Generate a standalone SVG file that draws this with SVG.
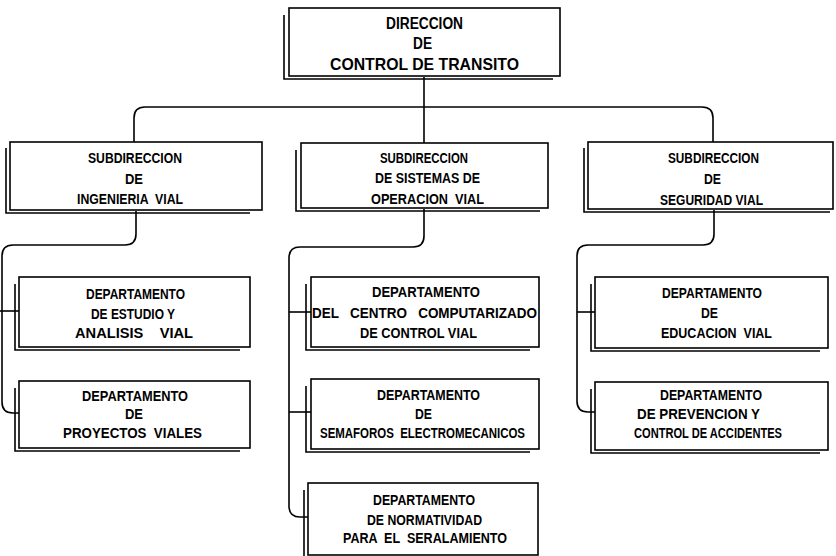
<svg xmlns="http://www.w3.org/2000/svg" width="836" height="556" viewBox="0 0 836 556">
<style>
.box{fill:#fff;stroke:#000;stroke-width:1.6}
.sh{fill:none;stroke:#000;stroke-width:1.6}
.c{fill:none;stroke:#000;stroke-width:1.6}
text{font-family:"Liberation Sans","Arial",sans-serif;font-weight:bold;font-size:14px;fill:#000;white-space:pre}
.t{font-size:16.5px}
</style>
<rect width="836" height="556" fill="#fff"/>
<g id="connectors">
<path class="c" d="M424,77 V143"/>
<path class="c" d="M134,142 V118 Q134,107 145,107 H702 Q713,107 713,118 V142"/>
<path class="c" d="M136,211 V234 Q136,245 125,245 H13 Q2,245 2,256 V402 Q2,413 13,413 H19"/>
<path class="c" d="M0,311 H19"/>
<path class="c" d="M424,209 V236 Q424,247 413,247 H300 Q289,247 289,258 V506 Q289,517 300,517 H308"/>
<path class="c" d="M289,312 H311"/>
<path class="c" d="M289,412 H311"/>
<path class="c" d="M714,210 V234 Q714,245 703,245 H588 Q577,245 577,256 V401 Q577,412 588,412 H595"/>
<path class="c" d="M577,312 H595"/>
</g>
<g id="n0">
<rect class="box" x="289" y="8" width="271" height="68"/>
<path class="sh" d="M284,15 V79 H553"/>
<text class="t" x="386" y="29" textLength="77" lengthAdjust="spacingAndGlyphs">DIRECCION</text>
<text class="t" x="413" y="49" textLength="19" lengthAdjust="spacingAndGlyphs">DE</text>
<text class="t" x="330" y="70" textLength="189" lengthAdjust="spacingAndGlyphs">CONTROL DE TRANSITO</text>
</g>
<g id="s1">
<rect class="box" x="10" y="142" width="252" height="68"/>
<path class="sh" d="M6,148 V213 H250"/>
<text x="88" y="163" textLength="94" lengthAdjust="spacingAndGlyphs">SUBDIRECCION</text>
<text x="125" y="184" textLength="18" lengthAdjust="spacingAndGlyphs">DE</text>
<text x="77" y="204" textLength="106" lengthAdjust="spacingAndGlyphs">INGENIERIA  VIAL</text>
</g>
<g id="s2">
<rect class="box" x="301" y="143" width="247" height="65"/>
<path class="sh" d="M296,150 V211 H540"/>
<text x="380" y="163" textLength="88" lengthAdjust="spacingAndGlyphs">SUBDIRECCION</text>
<text x="375" y="183" textLength="105" lengthAdjust="spacingAndGlyphs">DE SISTEMAS DE</text>
<text x="371" y="204" textLength="113" lengthAdjust="spacingAndGlyphs">OPERACION  VIAL</text>
</g>
<g id="s3">
<rect class="box" x="588" y="142" width="245" height="67"/>
<path class="sh" d="M584,148 V212 H830"/>
<text x="668" y="163" textLength="91" lengthAdjust="spacingAndGlyphs">SUBDIRECCION</text>
<text x="704" y="184" textLength="17" lengthAdjust="spacingAndGlyphs">DE</text>
<text x="660" y="205" textLength="103" lengthAdjust="spacingAndGlyphs">SEGURIDAD VIAL</text>
</g>
<g id="d1">
<rect class="box" x="19" y="277" width="231" height="70"/>
<path class="sh" d="M15,284 V350 H240"/>
<text x="86" y="299" textLength="99" lengthAdjust="spacingAndGlyphs">DEPARTAMENTO</text>
<text x="91" y="319" textLength="84" lengthAdjust="spacingAndGlyphs">DE ESTUDIO Y</text>
<text x="75" y="338" textLength="118" lengthAdjust="spacingAndGlyphs">ANALISIS    VIAL</text>
</g>
<g id="d2">
<rect class="box" x="19" y="381" width="231" height="67"/>
<path class="sh" d="M15,388 V451 H240"/>
<text x="82" y="401" textLength="106" lengthAdjust="spacingAndGlyphs">DEPARTAMENTO</text>
<text x="125" y="419" textLength="18" lengthAdjust="spacingAndGlyphs">DE</text>
<text x="63" y="438" textLength="139" lengthAdjust="spacingAndGlyphs">PROYECTOS  VIALES</text>
</g>
<g id="d3">
<rect class="box" x="311" y="277" width="228" height="70"/>
<path class="sh" d="M306,284 V350 H530"/>
<text x="372" y="297" textLength="108" lengthAdjust="spacingAndGlyphs">DEPARTAMENTO</text>
<text x="312" y="318" textLength="225" lengthAdjust="spacingAndGlyphs">DEL   CENTRO   COMPUTARIZADO</text>
<text x="360" y="338" textLength="117" lengthAdjust="spacingAndGlyphs">DE CONTROL VIAL</text>
</g>
<g id="d4">
<rect class="box" x="311" y="379" width="228" height="70"/>
<path class="sh" d="M306,386 V452 H530"/>
<text x="377" y="400" textLength="103" lengthAdjust="spacingAndGlyphs">DEPARTAMENTO</text>
<text x="415" y="419" textLength="17" lengthAdjust="spacingAndGlyphs">DE</text>
<text x="320" y="438" textLength="205" lengthAdjust="spacingAndGlyphs">SEMAFOROS  ELECTROMECANICOS</text>
</g>
<g id="d5">
<rect class="box" x="308" y="483" width="230" height="72"/>
<path class="sh" d="M304,490 V556"/>
<text x="373" y="505" textLength="102" lengthAdjust="spacingAndGlyphs">DEPARTAMENTO</text>
<text x="367" y="525" textLength="115" lengthAdjust="spacingAndGlyphs">DE NORMATIVIDAD</text>
<text x="343" y="543" textLength="164" lengthAdjust="spacingAndGlyphs">PARA  EL  SERALAMIENTO</text>
</g>
<g id="d6">
<rect class="box" x="595" y="277" width="233" height="71"/>
<path class="sh" d="M591,284 V351 H820"/>
<text x="662" y="298" textLength="100" lengthAdjust="spacingAndGlyphs">DEPARTAMENTO</text>
<text x="701" y="318" textLength="17" lengthAdjust="spacingAndGlyphs">DE</text>
<text x="661" y="338" textLength="111" lengthAdjust="spacingAndGlyphs">EDUCACION  VIAL</text>
</g>
<g id="d7">
<rect class="box" x="595" y="382" width="233" height="68"/>
<path class="sh" d="M591,389 V453 H820"/>
<text x="660" y="400" textLength="102" lengthAdjust="spacingAndGlyphs">DEPARTAMENTO</text>
<text x="637" y="419" textLength="123" lengthAdjust="spacingAndGlyphs">DE PREVENCION Y</text>
<text x="634" y="438" textLength="148" lengthAdjust="spacingAndGlyphs">CONTROL DE ACCIDENTES</text>
</g>
</svg>
